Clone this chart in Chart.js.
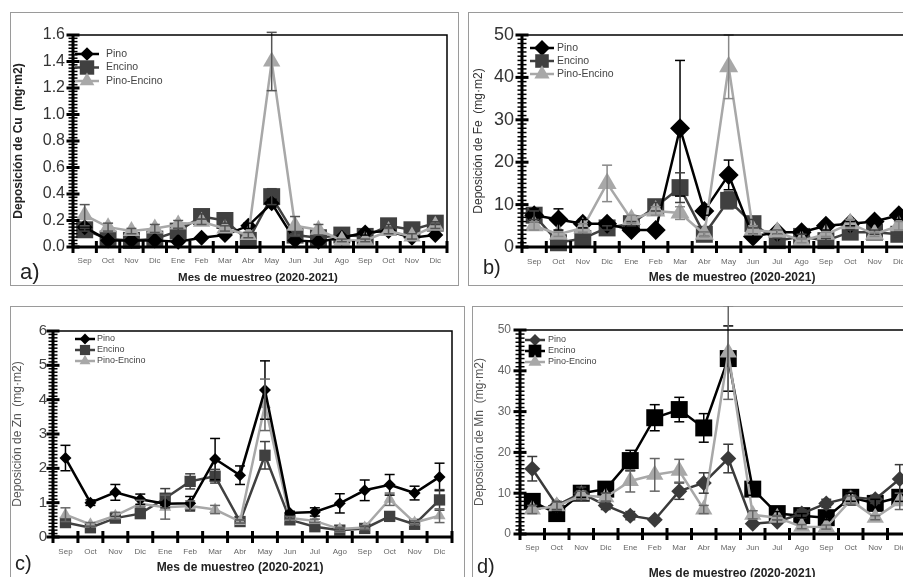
<!DOCTYPE html>
<html lang="es">
<head>
<meta charset="utf-8">
<script src="https://cdn.jsdelivr.net/npm/chart.js@4.4.1/dist/chart.umd.min.js"></script>
<style>
  html, body { margin:0; padding:0; width:903px; height:577px; overflow:hidden; background:#fff; font-family:"Liberation Sans", Arial, sans-serif; }
  .caja { position:absolute; border:1px solid #9a9a9a; background:#fff; box-sizing:border-box; }
  canvas { position:absolute; }
  .letra { position:absolute; font-size:20px; line-height:20px; color:#222; }
  .titx { position:absolute; font-weight:bold; font-size:12px; color:#222; white-space:nowrap; transform:translate(-50%,-50%); }
</style>
</head>
<body>
<div class="caja" style="left:10px;top:12px;width:449px;height:274px"></div>
<div class="caja" style="left:468px;top:12px;width:500px;height:274px"></div>
<div class="caja" style="left:10px;top:306px;width:455px;height:300px"></div>
<div class="caja" style="left:472px;top:306px;width:500px;height:300px"></div>

<canvas id="gCu" width="449" height="273" style="left:10px;top:12px"></canvas>
<canvas id="gFe" width="460" height="273" style="left:468px;top:12px"></canvas>
<canvas id="gZn" width="454" height="275" style="left:10px;top:306px"></canvas>
<canvas id="gMn" width="460" height="275" style="left:472px;top:306px"></canvas>

<div class="letra" style="left:20px;top:262px;font-size:22px">a)</div>
<div class="letra" style="left:483px;top:257px">b)</div>
<div class="letra" style="left:15px;top:553px">c)</div>
<div class="letra" style="left:477px;top:556px">d)</div>

<div class="titx" style="left:258px;top:277px;font-size:11.5px">Mes de muestreo (2020-2021)</div>
<div class="titx" style="left:732px;top:277px">Mes de muestreo (2020-2021)</div>
<div class="titx" style="left:240px;top:567px">Mes de muestreo (2020-2021)</div>
<div class="titx" style="left:732px;top:573px">Mes de muestreo (2020-2021)</div>

<script>
// Meses de muestreo (sep 2020 - dic 2021)
const meses = ["Sep", "Oct", "Nov", "Dic", "Ene", "Feb", "Mar", "Abr", "May", "Jun", "Jul", "Ago", "Sep", "Oct", "Nov", "Dic"];
const nombres = ["Pino", "Encino", "Pino-Encino"];

// a) Cu
const cuPino = [0.15, 0.05, 0.05, 0.05, 0.04, 0.07, 0.09, 0.16, 0.33, 0.05, 0.04, 0.07, 0.11, 0.12, 0.07, 0.09];
const cuPinoErr = [0.02, 0, 0, 0, 0, 0, 0, 0.02, 0.03, 0, 0, 0, 0.02, 0, 0, 0.01];
const cuEncino = [0.13, 0.06, 0.05, 0.06, 0.12, 0.23, 0.2, 0.05, 0.38, 0.09, 0.07, 0.09, 0.08, 0.16, 0.13, 0.18];
const cuEncinoErr = [0.01, 0, 0, 0, 0.02, 0.02, 0.02, 0, 0.06, 0.01, 0, 0, 0, 0.01, 0, 0.01];
const cuPE = [0.24, 0.15, 0.12, 0.14, 0.17, 0.19, 0.14, 0.09, 1.4, 0.16, 0.13, 0.05, 0.05, 0.12, 0.08, 0.16];
const cuPEErr = [0.08, 0.03, 0.02, 0.03, 0.03, 0.02, 0.02, 0.02, 0.22, 0.07, 0.04, 0.01, 0.01, 0.02, 0.02, 0.02];

// b) Fe
const fePino = [7.5, 6.5, 5.5, 5.5, 4, 4, 28, 8.5, 17, 2.5, 3.5, 3.5, 5, 5.5, 6, 7.5];
const fePinoErr = [1.5, 2.5, 1, 0.5, 0.5, 0.5, 16, 1, 3.5, 0.5, 0.5, 0.5, 1, 0.5, 0.5, 1];
const feEncino = [7.5, 1, 2, 4.5, 5.5, 9.5, 14, 3, 11, 5.5, 1.5, 2.5, 1.5, 3.5, 3.5, 3];
const feEncinoErr = [1, 0.5, 0.5, 0.5, 0.5, 1, 3.5, 0.5, 2, 1, 0.5, 0.5, 0.5, 0.5, 0.5, 0.5];
const fePE = [5, 3, 4.5, 15, 6.5, 8.5, 8, 3, 42.5, 4, 3.5, 1.5, 3, 5.5, 3, 5];
const fePEErr = [1, 0.5, 1, 4.3, 1, 1, 1.5, 0.5, 7.5, 1, 0.5, 0.5, 0.5, 1, 0.5, 1];

// c) Zn
const znPino = [2.3, 1.0, 1.3, 1.1, 0.97, 0.98, 2.27, 1.8, 4.28, 0.7, 0.73, 0.98, 1.36, 1.52, 1.28, 1.75];
const znPinoErr = [0.37, 0.08, 0.23, 0.15, 0.05, 0.2, 0.6, 0.27, 0.85, 0.05, 0.12, 0.28, 0.3, 0.3, 0.2, 0.4];
const znEncino = [0.42, 0.27, 0.55, 0.68, 1.13, 1.62, 1.77, 0.45, 2.38, 0.5, 0.3, 0.2, 0.25, 0.6, 0.37, 1.08];
const znEncinoErr = [0.05, 0.03, 0.05, 0.05, 0.28, 0.22, 0.2, 0.05, 0.4, 0.05, 0.05, 0.03, 0.05, 0.08, 0.05, 0.3];
const znPE = [0.65, 0.37, 0.62, 0.97, 0.87, 0.9, 0.8, 0.45, 3.85, 0.55, 0.47, 0.23, 0.28, 1.1, 0.42, 0.62];
const znPEErr = [0.2, 0.05, 0.1, 0.1, 0.35, 0.15, 0.12, 0.05, 0.75, 0.05, 0.05, 0.05, 0.05, 0.18, 0.05, 0.2];

// d) Mn
const mnPino = [16, 7, 10, 7, 4.5, 3.5, 10.5, 12.5, 18.5, 2.5, 3, 5, 7.5, 9, 8.5, 13.5];
const mnPinoErr = [3, 1, 1.5, 1, 1, 0.5, 2, 2.5, 3.5, 0.5, 0.5, 1, 1, 1, 1, 3.5];
const mnEncino = [8, 5, 10, 11, 18, 28.5, 30.5, 26, 43, 11, 5, 4.5, 4, 9, 7.5, 9];
const mnEncinoErr = [1, 0.5, 1, 1, 2.5, 3.2, 3, 3.5, 8, 1.5, 0.5, 0.5, 0.5, 1, 1, 1];
const mnPE = [6, 6.8, 9.5, 9, 13, 14.5, 15.5, 6, 44.5, 4.7, 4, 1.8, 1.7, 8.3, 4, 8];
const mnPEErr = [1, 1, 1, 1, 2.7, 4, 2.8, 1, 11.5, 1, 0.5, 0.5, 0.5, 1, 0.5, 2];

Chart.defaults.font.family = '"Liberation Sans", Arial, sans-serif';

function linea(ctx, x1, y1, x2, y2) {
  ctx.beginPath(); ctx.moveTo(x1, y1); ctx.lineTo(x2, y2); ctx.stroke();
}

// mismo trazo que los puntos de Chart.js, para la leyenda
function marcador(ctx, estilo, x, y, r) {
  ctx.beginPath();
  if (estilo === "rectRot") {
    ctx.moveTo(x, y - r); ctx.lineTo(x + r, y); ctx.lineTo(x, y + r); ctx.lineTo(x - r, y);
  } else if (estilo === "rect") {
    const s = r * Math.SQRT1_2;
    ctx.rect(x - s, y - s, 2 * s, 2 * s);
  } else {
    ctx.moveTo(x, y - r); ctx.lineTo(x + r * 0.866, y + r * 0.5); ctx.lineTo(x - r * 0.866, y + r * 0.5);
  }
  ctx.closePath();
  ctx.fill();
}

// barras de error (desviación)
const barrasError = {
  id: "barras",
  afterDatasetsDraw(chart) {
    const { ctx, scales: { y } } = chart;
    ctx.save();
    ctx.lineWidth = 1.5;
    chart.data.datasets.forEach((ds, k) => {
      const meta = chart.getDatasetMeta(k);
      ctx.strokeStyle = ds.colorError;
      ds.err.forEach((e, i) => {
        if (!e) return;
        const px = meta.data[i].x;
        const arriba = y.getPixelForValue(ds.data[i] + e);
        const abajo = y.getPixelForValue(ds.data[i] - e);
        linea(ctx, px, arriba, px, abajo);
        linea(ctx, px - 5, arriba, px + 5, arriba);
        linea(ctx, px - 5, abajo, px + 5, abajo);
      });
    });
    ctx.restore();
  }
};

// ejes gruesos con marcas que cruzan el eje
const ejes = {
  id: "ejes",
  afterDatasetsDraw(chart, args, o) {
    const { ctx, chartArea: ca, scales: { x, y } } = chart;
    ctx.save();
    ctx.strokeStyle = "#000";
    ctx.lineWidth = 1.5;
    ctx.beginPath();
    ctx.moveTo(ca.left, ca.top); ctx.lineTo(ca.right, ca.top); ctx.lineTo(ca.right, ca.bottom);
    ctx.stroke();
    ctx.lineWidth = 3;
    linea(ctx, ca.left, ca.top - 1, ca.left, ca.bottom);
    const n = Math.round((y.max - y.min) / o.menor);
    ctx.lineWidth = 1.5;
    for (let i = 0; i <= n; i++) {
      const py = y.getPixelForValue(y.min + i * o.menor);
      linea(ctx, ca.left - 4.5, py, ca.left + 4.5, py);
    }
    ctx.lineWidth = 3;
    y.ticks.forEach(t => {
      const py = y.getPixelForValue(t.value);
      linea(ctx, ca.left - 6.5, py, ca.left + 6.5, py);
    });
    linea(ctx, ca.left, ca.bottom, ca.right, ca.bottom);
    const media = (x.getPixelForValue(1) - x.getPixelForValue(0)) / 2;
    for (let i = 0; i <= meses.length; i++) {
      const px = x.getPixelForValue(i) - media;
      linea(ctx, px, ca.bottom - 6, px, ca.bottom + 6);
    }
    ctx.restore();
  }
};

// leyenda dentro del área de trazado, arriba a la izquierda
const leyenda = {
  id: "leyenda",
  afterDraw(chart, args, o) {
    const { ctx, chartArea: ca } = chart;
    ctx.save();
    chart.data.datasets.forEach((ds, i) => {
      const xm = ca.left + o.dx;
      const ym = ca.top + o.dy + i * o.paso;
      ctx.strokeStyle = ds.borderColor;
      ctx.lineWidth = 2.5;
      linea(ctx, xm - o.largo, ym, xm + o.largo, ym);
      ctx.fillStyle = ds.borderColor;
      marcador(ctx, ds.pointStyle, xm, ym, ds.pointRadius * o.escala);
      ctx.fillStyle = o.color;
      ctx.font = o.tam + 'px "Liberation Sans", Arial, sans-serif';
      ctx.textBaseline = "middle";
      ctx.fillText(ds.label, xm + o.texto, ym);
    });
    ctx.restore();
  }
};

function serie(nombre, datos, err, color, estilo, radio, orden, colorErr) {
  return {
    label: nombre, data: datos, err: err,
    borderColor: color, backgroundColor: color,
    pointBackgroundColor: color, pointBorderColor: color, pointBorderWidth: 0,
    pointStyle: estilo, pointRadius: radio, borderWidth: 2.5,
    tension: 0, clip: false, order: orden, colorError: colorErr || color
  };
}

function panel(id, p) {
  const ctx = document.getElementById(id).getContext("2d");
  return new Chart(ctx, {
    type: "line",
    data: { labels: meses, datasets: p.series },
    options: {
      responsive: false,
      animation: false,
      layout: { padding: p.pad },
      plugins: {
        legend: { display: false },
        tooltip: { enabled: false },
        ejes: { menor: p.menor },
        leyenda: p.leyenda
      },
      scales: {
        x: {
          offset: true,
          grid: { display: false, drawTicks: false },
          border: { display: false },
          ticks: { autoSkip: false, maxRotation: 0, padding: p.padX, color: "#666", font: { size: 8 } },
          afterFit: s => { s.height = p.altoX; }
        },
        y: {
          min: 0, max: p.max,
          grid: { display: false, drawTicks: false },
          border: { display: false },
          ticks: {
            stepSize: p.paso, padding: p.padY, color: p.colorY, font: { size: p.tamY },
            callback: v => v.toFixed(p.dec)
          },
          title: {
            display: true, text: p.tituloY, color: p.colorTit,
            font: { size: p.tamTit, weight: p.pesoTit }, padding: { top: p.padTit, bottom: 0 }
          },
          afterFit: s => { s.width = p.anchoY; }
        }
      }
    },
    plugins: [barrasError, ejes, leyenda]
  });
}

const negro = "#000000", oscuro = "#404040", claro = "#a8a8a8";

panel("gCu", {
  series: [
    serie(nombres[0], cuPino, cuPinoErr, negro, "rectRot", 8, 1),
    serie(nombres[1], cuEncino, cuEncinoErr, oscuro, "rect", 12, 2),
    serie(nombres[2], cuPE, cuPEErr, claro, "triangle", 10, 0, "#555")
  ],
  pad: { left: 0, top: 23, right: 6, bottom: 0 }, anchoY: 63, altoX: 38, padX: 9,
  max: 1.6, paso: 0.2, dec: 1, menor: 0.025, padY: 8, tamY: 16, colorY: "#333",
  tituloY: "Deposición de Cu  (mg·m2)", tamTit: 12, pesoTit: "bold", colorTit: "#222", padTit: 1,
  leyenda: { dx: 14, dy: 19, paso: 13.5, largo: 12, escala: 0.85, texto: 19, tam: 10.5, color: "#444" }
});

panel("gFe", {
  series: [
    serie(nombres[0], fePino, fePinoErr, negro, "rectRot", 10, 1),
    serie(nombres[1], feEncino, feEncinoErr, oscuro, "rect", 12, 2),
    serie(nombres[2], fePE, fePEErr, claro, "triangle", 11, 0, "#888")
  ],
  pad: { left: 0, top: 23, right: 17, bottom: 0 }, anchoY: 54, altoX: 38, padX: 10,
  max: 50, paso: 10, dec: 0, menor: 1, padY: 8, tamY: 18, colorY: "#333",
  tituloY: "Deposición de Fe  (mg·m2)", tamTit: 12, pesoTit: "normal", colorTit: "#333", padTit: 3,
  leyenda: { dx: 20, dy: 13, paso: 13, largo: 12, escala: 0.8, texto: 15, tam: 10.5, color: "#444" }
});

panel("gZn", {
  series: [
    serie(nombres[0], znPino, znPinoErr, negro, "rectRot", 6, 0),
    serie(nombres[1], znEncino, znEncinoErr, oscuro, "rect", 8, 2),
    serie(nombres[2], znPE, znPEErr, claro, "triangle", 7, 1, "#666")
  ],
  pad: { left: 0, top: 25, right: 12, bottom: 4 }, anchoY: 43, altoX: 40, padX: 10,
  max: 6, paso: 1, dec: 0, menor: 0.1, padY: 6, tamY: 15, colorY: "#444",
  tituloY: "Deposición de Zn  (mg·m2)", tamTit: 12, pesoTit: "normal", colorTit: "#555", padTit: 0,
  leyenda: { dx: 32, dy: 8, paso: 11, largo: 10, escala: 0.9, texto: 12, tam: 9, color: "#444" }
});

panel("gMn", {
  series: [
    serie(nombres[0], mnPino, mnPinoErr, "#3a3a3a", "rectRot", 8, 1),
    serie(nombres[1], mnEncino, mnEncinoErr, negro, "rect", 12, 2),
    serie(nombres[2], mnPE, mnPEErr, claro, "triangle", 10, 0, "#666")
  ],
  pad: { left: 0, top: 24, right: 20, bottom: 7 }, anchoY: 48, altoX: 40, padX: 9,
  max: 50, paso: 10, dec: 0, menor: 1, padY: 9, tamY: 12, colorY: "#666",
  tituloY: "Deposición de Mn  (mg·m2)", tamTit: 12, pesoTit: "normal", colorTit: "#555", padTit: 0,
  leyenda: { dx: 15, dy: 10, paso: 11, largo: 10, escala: 0.75, texto: 13, tam: 9, color: "#444" }
});
</script>
</body>
</html>
